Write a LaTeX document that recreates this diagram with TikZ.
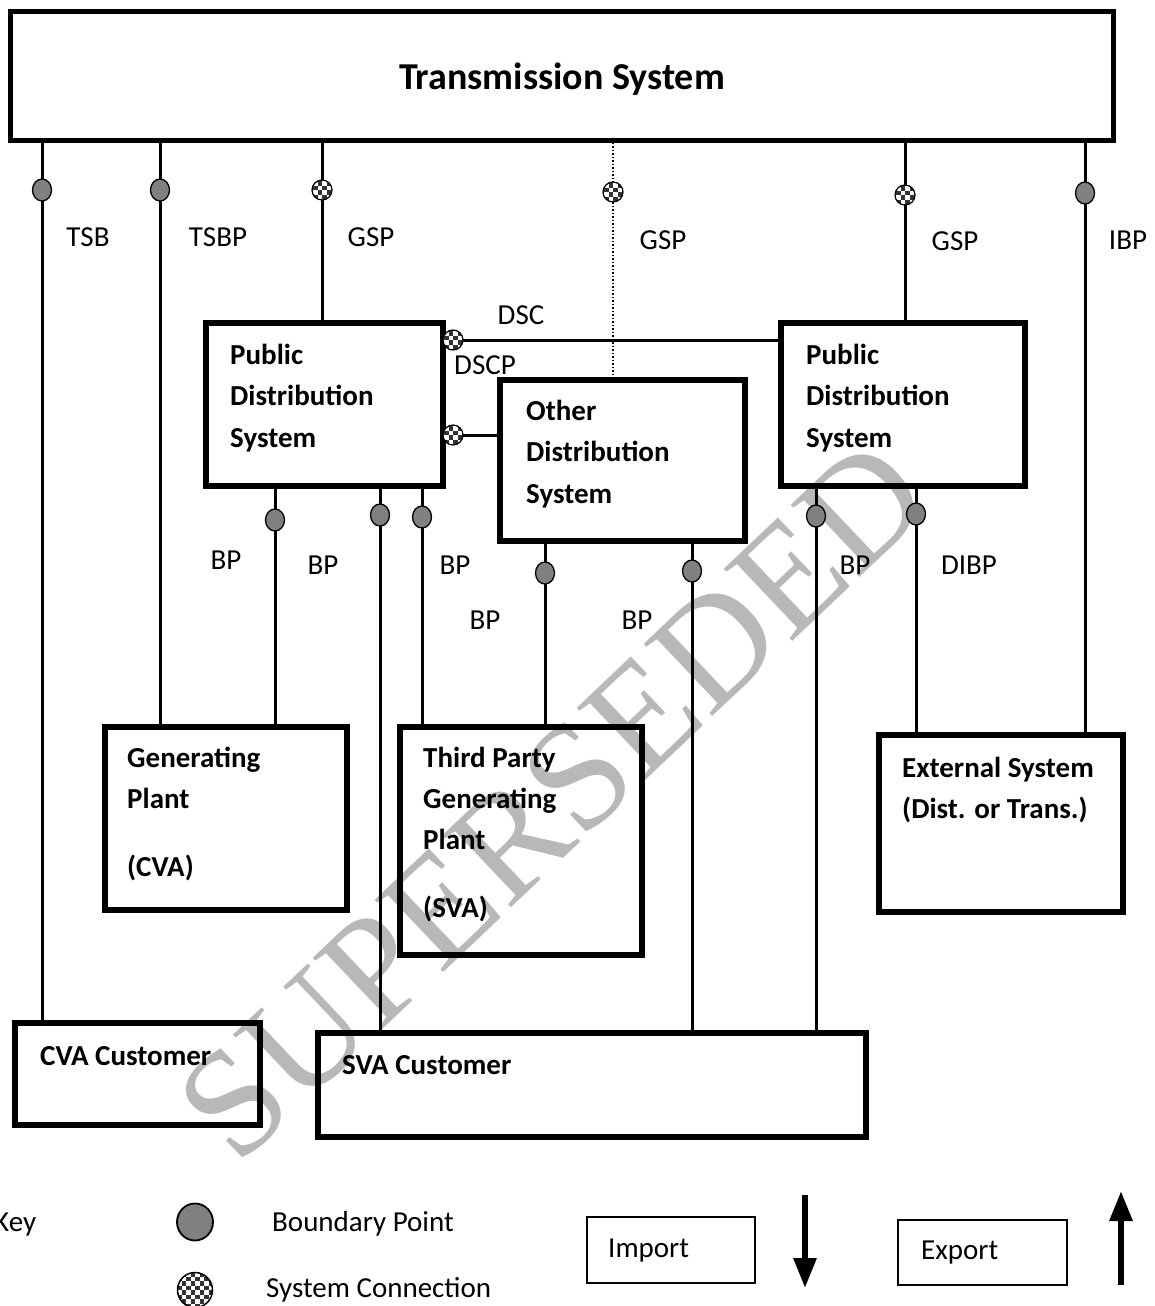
\documentclass[tikz,border=0pt]{standalone}
\usepackage{fontspec}
\setmainfont{Carlito}
\newfontfamily\wmfont{Liberation Serif}
\usetikzlibrary{fit,arrows.meta,shapes.geometric}
\tikzset{
  sysbox/.style={draw, line width=6pt, inner sep=0pt},
  keybox/.style={draw, line width=1.5pt, inner sep=0pt},
  conn/.style={line width=3pt},
  bpmark/.style={ellipse, draw, line width=1.3pt, fill=black!50, minimum width=19pt, minimum height=22pt, inner sep=0pt},
  scmark/.style={circle, draw, line width=1.2pt, minimum size=#1, inner sep=0pt, fill=white,
    path picture={
      \foreach \i in {-6,...,5}{\foreach \j in {-6,...,5}{
        \pgfmathtruncatemacro{\chk}{mod(\i+\j+20,2)}
        \ifnum\chk=0
          \fill[black!80] ([xshift=\i*4.5pt, yshift=\j*4.5pt]path picture bounding box.center) rectangle ++(4.5pt,4.5pt);
        \fi
      }}
    }},
  scmark/.default=20pt,
  lbl/.style={font=\fontsize{29}{35}\selectfont, inner sep=0pt},
  lblw/.style={font=\fontsize{29}{35}\selectfont, inner sep=0pt, anchor=base west},
  bx/.style={font=\fontsize{29}{35}\selectfont\bfseries, inner sep=0pt, anchor=base west},
}
\begin{document}
\begin{tikzpicture}[x=1pt,y=-1pt]
\useasboundingbox (0,0) rectangle (1155,1306);
% watermark
\node[rotate=43.5, text=black!28, font=\fontsize{152}{152}\wmfont, inner sep=0pt] (wm) at (553,800) {SUPERSEDED};

% boxes
\node[sysbox, line width=5pt, fit={(10,12) (1113,140)}] (ts) {};
\node[sysbox, fit={(206,323) (443,486)}] (pds1) {};
\node[sysbox, fit={(781,323) (1025,486)}] (pds2) {};
\node[sysbox, fit={(500,380) (745,541)}] (ods) {};
\node[sysbox, fit={(105,727) (347,910)}] (gen) {};
\node[sysbox, fit={(400,727) (642,955)}] (tpg) {};
\node[sysbox, fit={(879,735) (1123,912)}] (ext) {};
\node[sysbox, fit={(15,1023) (260,1125)}] (cvac) {};
\node[sysbox, fit={(318,1033) (866,1137)}] (svac) {};

% marker positions
\coordinate (b1) at (42,190);
\coordinate (b2) at (160,190);
\coordinate (s1) at (322,190);
\coordinate (s2) at (613,192);
\coordinate (s3) at (905,195);
\coordinate (b3) at (1085,193);
\coordinate (sdsc) at (453,340);
\coordinate (sods) at (453,435);
\coordinate (b4) at (275,520);
\coordinate (b5) at (380,515);
\coordinate (b6) at (422,517);
\coordinate (b7) at (545,573);
\coordinate (b8) at (692,571);
\coordinate (b9) at (816,516);
\coordinate (b10) at (916,514);

% connectors
\draw[conn] (ts.south -| b1) -- (cvac.north -| b1);
\draw[conn] (ts.south -| b2) -- (gen.north -| b2);
\draw[conn] (ts.south -| s1) -- (pds1.north -| s1);
\draw[line width=1.5pt, dash pattern=on 1.5pt off 2pt] (ts.south -| s2) -- (ods.north -| s2);
\draw[conn] (ts.south -| s3) -- (pds2.north -| s3);
\draw[conn] (ts.south -| b3) -- (ext.north -| b3);
\draw[conn] (pds1.east |- sdsc) -- (pds2.west |- sdsc);
\draw[conn] (pds1.east |- sods) -- (ods.west |- sods);
\draw[conn] (pds1.south -| b4) -- (gen.north -| b4);
\draw[conn] (pds1.south -| b5) -- (svac.north -| b5);
\draw[conn] (pds1.south -| b6) -- (tpg.north -| b6);
\draw[conn] (ods.south -| b7) -- (tpg.north -| b7);
\draw[conn] (ods.south -| b8) -- (svac.north -| b8);
\draw[conn] (pds2.south -| b9) -- (svac.north -| b9);
\draw[conn] (pds2.south -| b10) -- (ext.north -| b10);

% markers
\node[bpmark] (mb1) at (b1) {};
\node[bpmark] (mb2) at (b2) {};
\node[scmark] (ms1) at (s1) {};
\node[scmark] (ms2) at (s2) {};
\node[scmark] (ms3) at (s3) {};
\node[bpmark] (mb3) at (b3) {};
\node[scmark] (msdsc) at (sdsc) {};
\node[scmark] (msods) at (sods) {};
\node[bpmark] (mb4) at (b4) {};
\node[bpmark] (mb5) at (b5) {};
\node[bpmark] (mb6) at (b6) {};
\node[bpmark] (mb7) at (b7) {};
\node[bpmark] (mb8) at (b8) {};
\node[bpmark] (mb9) at (b9) {};
\node[bpmark] (mb10) at (b10) {};

% title
\node[font=\fontsize{38}{46}\selectfont\bfseries, inner sep=0pt, anchor=base] (tstxt) at (562,89) {Transmission System};

% box texts
\node[bx] (p1a) at (230,364) {Public};
\node[bx] (p1b) at (230,405.5) {Distribution};
\node[bx] (p1c) at (230,447) {System};
\node[bx] (p2a) at (806,364) {Public};
\node[bx] (p2b) at (806,405.5) {Distribution};
\node[bx] (p2c) at (806,447) {System};
\node[bx] (o1) at (526,420) {Other};
\node[bx] (o2) at (526,461.5) {Distribution};
\node[bx] (o3) at (526,503) {System};
\node[bx] (g1) at (127,767) {Generating};
\node[bx] (g2) at (127,808) {Plant};
\node[bx] (g3) at (127,876) {(CVA)};
\node[bx] (t1) at (423,767) {Third Party};
\node[bx] (t2) at (423,808) {Generating};
\node[bx] (t3) at (423,849) {Plant};
\node[bx] (t4) at (423,917) {(SVA)};
\node[bx] (e1) at (902,777) {External System};
\node[bx] (e2) at (902,818) {(Dist. or Trans.)};
\node[bx] (c1) at (40,1065) {CVA Customer};
\node[bx] (c2) at (342,1074) {SVA Customer};

% connector labels
\node[lbl] (l1) at (88,237) {TSB};
\node[lbl] (l2) at (218,237) {TSBP};
\node[lbl] (l3) at (371,237) {GSP};
\node[lbl] (l4) at (663,240) {GSP};
\node[lbl] (l5) at (955,241) {GSP};
\node[lbl] (l6) at (1128,240) {IBP};
\node[lbl] (l7) at (521,315) {DSC};
\node[lbl] (l8) at (485,365) {DSCP};
\node[lbl] (l9) at (226,560) {BP};
\node[lbl] (l10) at (323,565) {BP};
\node[lbl] (l11) at (455,565) {BP};
\node[lbl] (l12) at (485,620) {BP};
\node[lbl] (l13) at (637,620) {BP};
\node[lbl] (l14) at (855,565) {BP};
\node[lbl] (l15) at (969,565) {DIBP};

% key
\node[lblw] (k0) at (-6,1231) {Key};
\node[bpmark, minimum width=36pt, minimum height=37pt, line width=1.8pt] (kbp) at (195,1222) {};
\node[lblw] (k1) at (272,1231) {Boundary Point};
\node[scmark=35pt, line width=1.5pt] (ksc) at (195,1290) {};
\node[lblw] (k2) at (266,1297) {System Connection};
\node[keybox, fit={(587,1217) (755,1283)}] (imp) {};
\node[lblw] (k3) at (608,1257) {Import};
\node[keybox, fit={(898,1220) (1067,1285)}] (exp) {};
\node[lblw] (k4) at (921,1259) {Export};
\coordinate (ia) at (805,1195);
\coordinate (ib) at (805,1288);
\coordinate (ea) at (1121,1285);
\coordinate (eb) at (1121,1191);
\draw[line width=6pt, -{Triangle[width=22pt,length=30pt]}] (ia) -- (ib);
\draw[line width=6pt, -{Triangle[width=22pt,length=30pt]}] (ea) -- (eb);
\end{tikzpicture}
\end{document}
